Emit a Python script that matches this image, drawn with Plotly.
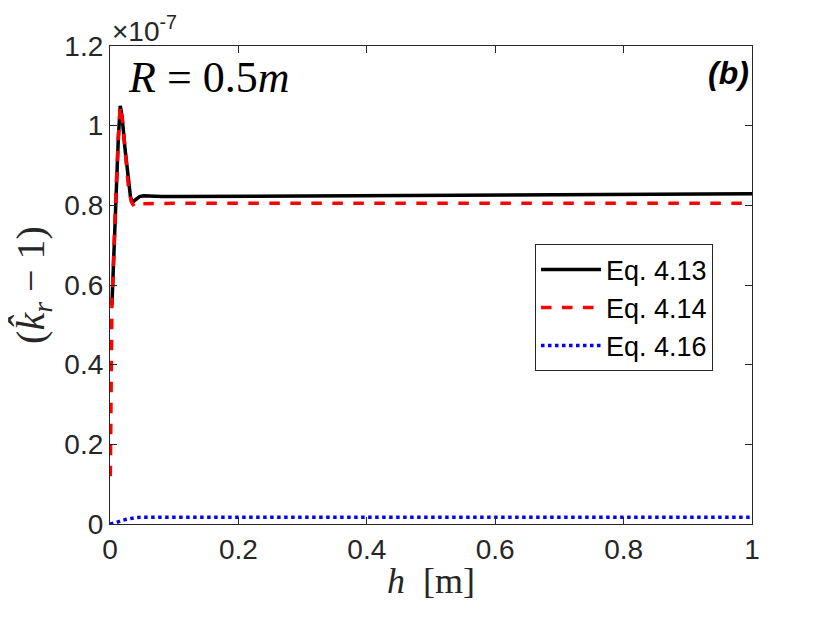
import plotly.graph_objects as go

# values in units of 1e-7
h_eq413 = [0.003, 0.005, 0.007, 0.010, 0.013, 0.016, 0.019, 0.0235, 0.0285, 0.032,
           0.035, 0.038, 0.0415, 0.046, 0.052, 0.060, 0.080, 0.10, 0.2, 0.4, 0.6, 0.8, 1.0]
k_eq413 = [0.55, 0.64, 0.74, 0.86, 0.97, 1.05, 1.02, 0.94, 0.857, 0.82,
           0.808, 0.812, 0.818, 0.822, 0.824, 0.823, 0.822, 0.822, 0.823, 0.825, 0.826, 0.828, 0.829]

h_eq414 = [0.0005, 0.0015, 0.003, 0.005, 0.007, 0.010, 0.013, 0.016, 0.019, 0.0235,
           0.0285, 0.033, 0.038, 0.042, 0.046, 0.05, 0.1, 0.2, 0.4, 0.6, 0.8, 1.0]
k_eq414 = [0.12, 0.40, 0.55, 0.64, 0.74, 0.86, 0.97, 1.05, 1.02, 0.94,
           0.85, 0.81, 0.796, 0.800, 0.803, 0.804, 0.805, 0.805, 0.805, 0.805, 0.805, 0.805]

h_eq416 = [0.0, 0.005, 0.010, 0.020, 0.030, 0.040, 0.050, 0.1, 0.2, 0.4, 0.6, 0.8, 1.0]
k_eq416 = [0.0, 0.001, 0.004, 0.010, 0.014, 0.016, 0.017, 0.017, 0.017, 0.017, 0.017, 0.017, 0.017]

x_ticks = [0, 0.2, 0.4, 0.6, 0.8, 1]
y_ticks = [0, 0.2, 0.4, 0.6, 0.8, 1.0, 1.2]
y_tick_text = ['0', '0.2', '0.4', '0.6', '0.8', '1', '1.2']

axis_col = '#262626'
font = 'Liberation Sans, Arial, Helvetica, sans-serif'
serif = 'Liberation Serif, DejaVu Serif, serif'

data = [
    go.Scatter(x=h_eq413, y=k_eq413, mode='lines', name='Eq. 4.13',
               line=dict(color='black', width=3.5)),
    go.Scatter(x=h_eq414, y=k_eq414, mode='lines', name='Eq. 4.14',
               line=dict(color='red', width=3.5, dash='dash')),
    go.Scatter(x=h_eq416, y=k_eq416, mode='lines', name='Eq. 4.16',
               line=dict(color='blue', width=3.5, dash='dot')),
]

layout = go.Layout(
    width=830, height=623,
    margin=dict(l=102, r=86, t=38, b=107),
    paper_bgcolor='white', plot_bgcolor='white',
    font=dict(family=font, size=28, color=axis_col),
    showlegend=True,
    legend=dict(
        x=0.662, y=0.585, xanchor='left', yanchor='top',
        bordercolor=axis_col, borderwidth=1, bgcolor='white',
        font=dict(family=font, size=27, color='black'),
        tracegroupgap=0, itemwidth=60,
    ),
    xaxis=dict(
        range=[0, 1], tickvals=x_ticks, ticks='inside', ticklen=7,
        showline=True, linecolor=axis_col, linewidth=1.2, mirror='ticks',
        tickcolor=axis_col, showgrid=False, zeroline=False,
        title=dict(text='<i>h</i>  [m]', font=dict(family=serif, size=36, color=axis_col),
                   standoff=4),
    ),
    yaxis=dict(
        range=[0, 1.2], tickvals=y_ticks, ticktext=y_tick_text, ticks='inside', ticklen=7,
        showline=True, linecolor=axis_col, linewidth=1.2, mirror='ticks',
        tickcolor=axis_col, showgrid=False, zeroline=False,
        title=dict(text='(<i>k&#770;<sub>r</sub></i> &#8722; 1)',
                   font=dict(family=serif, size=40, color=axis_col), standoff=10),
    ),
    annotations=[
        dict(text='×10<sup>-7</sup>', xref='paper', yref='paper', x=0.0, y=1.0,
             xanchor='left', yanchor='bottom', showarrow=False, yshift=-3,
             font=dict(family=font, size=28, color=axis_col)),
        dict(text='<i>R</i> = 0.5<i>m</i>', xref='paper', yref='paper', x=0.025, y=0.99,
             xanchor='left', yanchor='top', showarrow=False,
             font=dict(family=serif, size=44, color='black')),
        dict(text='<b><i>(b)</i></b>', xref='paper', yref='paper', x=0.998, y=0.985,
             xanchor='right', yanchor='top', showarrow=False,
             font=dict(family=font, size=32, color='black')),
    ],
)

fig = go.Figure(data=data, layout=layout)
fig.write_html('out.html')
